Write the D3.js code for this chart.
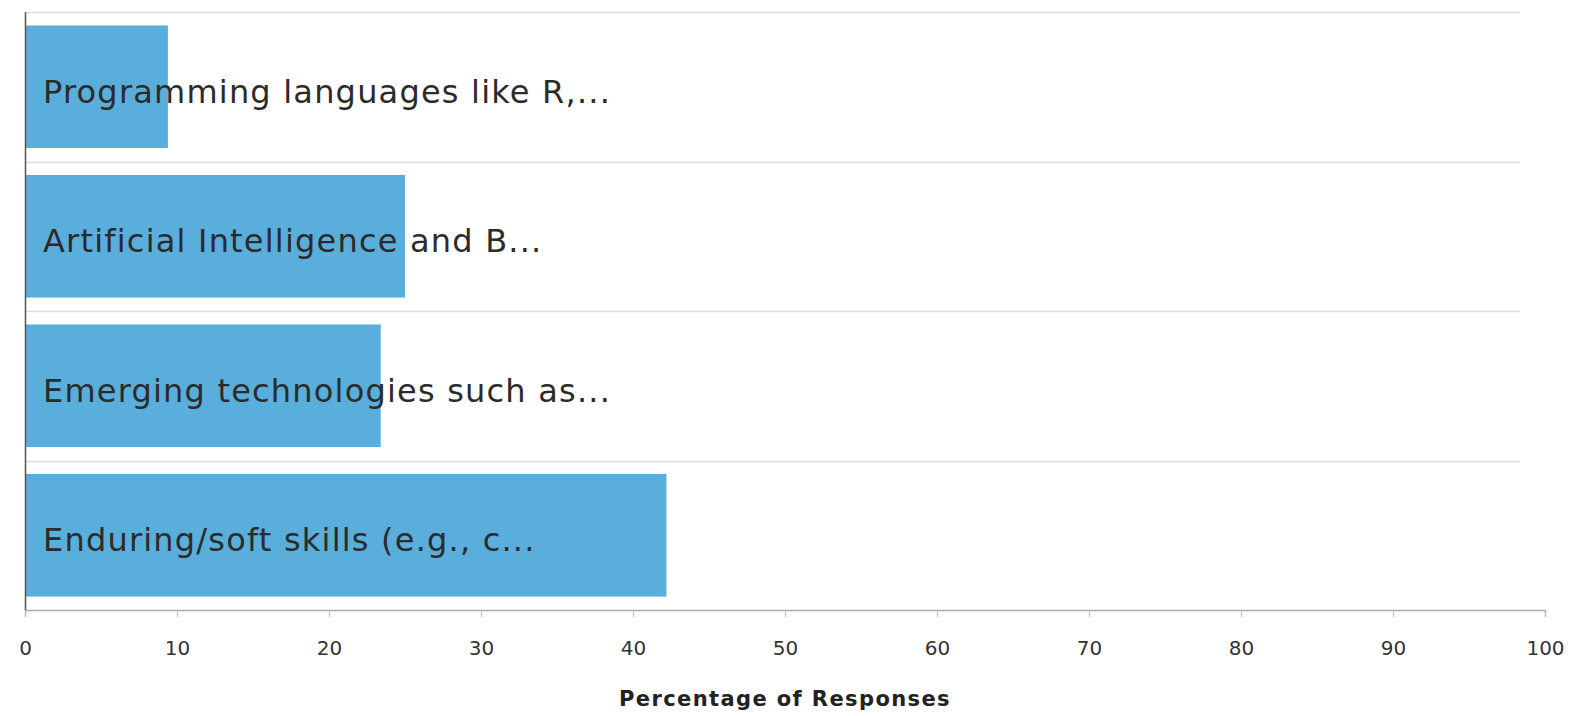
<!DOCTYPE html>
<html>
<head>
<meta charset="utf-8">
<script src="https://cdn.jsdelivr.net/npm/d3@7"></script>
<style>
  html, body { margin: 0; padding: 0; background: #fff; }
  svg { display: block; }
</style>
</head>
<body>
<svg id="chart" width="1570" height="716"></svg>
<script>
// Survey answers, top to bottom, with share of responses (%)
const categories = [
  "Programming languages like R,...",
  "Artificial Intelligence and B...",
  "Emerging technologies such as...",
  "Enduring/soft skills (e.g., c..."
];
const values = [9.4, 25.0, 23.4, 42.2];
const xTicks = [0, 10, 20, 30, 40, 50, 60, 70, 80, 90, 100];
const xTitle = "Percentage of Responses";

const svg = d3.select("#chart");
const plotLeft = 25, plotRight = 1545, plotTop = 12, plotBottom = 610, gridRight = 1520;
const font = "DejaVu Sans, Verdana, sans-serif";

const x = d3.scaleLinear().domain([0, 100]).range([plotLeft, plotRight]);
const y = d3.scaleBand().domain(categories).range([plotTop, plotBottom]).paddingInner(0.18).paddingOuter(0.09);

// Row separator lines
const seps = d3.range(categories.length).map(i => plotTop + i * (plotBottom - plotTop) / categories.length);
svg.append("g").selectAll("line").data(seps).join("line")
  .attr("x1", plotLeft).attr("x2", gridRight)
  .attr("y1", d => Math.round(d) + 0.5).attr("y2", d => Math.round(d) + 0.5)
  .attr("stroke", "#dcdcdc").attr("stroke-width", 1.5);

// Bars
svg.append("g").selectAll("rect").data(categories).join("rect")
  .attr("x", x(0))
  .attr("y", d => y(d))
  .attr("width", (d, i) => x(values[i]) - x(0))
  .attr("height", y.bandwidth())
  .attr("fill", "#5aaedb");

// Category labels inside the bars
svg.append("g").selectAll("text").data(categories).join("text")
  .attr("x", 43)
  .attr("y", d => y(d) + y.bandwidth() / 2)
  .attr("dy", "0.5em")
  .attr("font-family", font)
  .attr("font-size", 32)
  .attr("letter-spacing", 1.2)
  .attr("fill", "#2b2b2b")
  .text(d => d);

// Bottom axis
const xAxis = d3.axisBottom(x).tickValues(xTicks).tickSize(7).tickPadding(24).tickFormat(d3.format("d"));
const gx = svg.append("g").attr("transform", `translate(0,${plotBottom})`).call(xAxis);
gx.select(".domain").attr("stroke", "#aaa").attr("stroke-width", 1.5);
gx.selectAll(".tick line").attr("stroke", "#bbb");
gx.selectAll(".tick text")
  .attr("font-family", font)
  .attr("font-size", 20)
  .attr("fill", "#333");

// Left axis line
svg.append("line")
  .attr("x1", plotLeft + 0.5).attr("x2", plotLeft + 0.5)
  .attr("y1", plotTop).attr("y2", plotBottom)
  .attr("stroke", "#555").attr("stroke-width", 1.5);

// Axis title
svg.append("text")
  .attr("x", (plotLeft + plotRight) / 2)
  .attr("y", 706)
  .attr("text-anchor", "middle")
  .attr("font-family", font)
  .attr("font-size", 21)
  .attr("font-weight", "bold")
  .attr("letter-spacing", 1.4)
  .attr("fill", "#222")
  .text(xTitle);
</script>
</body>
</html>
